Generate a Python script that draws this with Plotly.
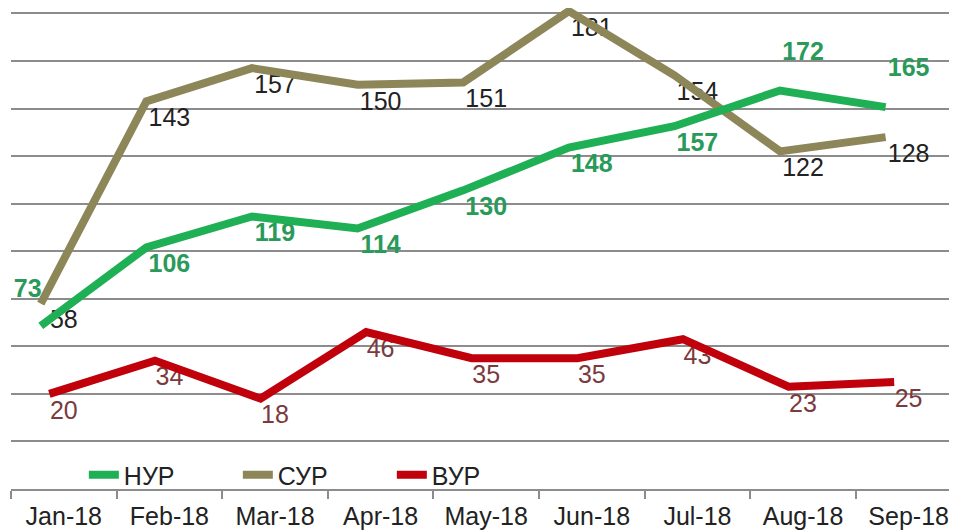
import plotly.graph_objects as go

# ---- data ----
months = ["Jan-18", "Feb-18", "Mar-18", "Apr-18", "May-18",
          "Jun-18", "Jul-18", "Aug-18", "Sep-18"]
nur = [73, 106, 119, 114, 130, 148, 157, 172, 165]   # НУР (green)
sur = [58, 143, 157, 150, 151, 181, 154, 122, 128]   # СУР (olive)
vur = [20, 34, 18, 46, 35, 35, 43, 23, 25]           # ВУР (red)

# ---- styles ----
GREEN = "#1fb055"
GREEN_TXT = "#2a9a5a"
OLIVE = "#8d8658"
RED = "#c0000b"
RED_TXT = "#7a3a3e"
GRID = "#8c8c8c"
FONT = "Liberation Sans, Arial, sans-serif"
FS = 25

# the page body keeps its default 8px margin, so the figure is sized to fit
FIG_W, FIG_H = 949, 523
X_RANGE = [-0.5, 8.458]
Y_RANGE = [-20, 182.3]
RED_SHIFT = 0.137      # lines drawn slightly off the category centres
OLIVE_SHIFT = 0.218
GREEN_YSHIFT = 24.4

fig = go.Figure()

def label_trace(vals, color, bold, yaxis, positions, gap):
    txt = [f"<b>{v}</b>" if bold else str(v) for v in vals]
    return go.Scatter(
        x=months, y=vals, xaxis="x", yaxis=yaxis,
        mode="markers+text", text=txt, textposition=positions,
        marker=dict(size=gap, opacity=0),
        textfont=dict(family=FONT, size=FS, color=color),
        showlegend=False, hoverinfo="skip", cliponaxis=False)

# labels (drawn beneath the lines)
fig.add_trace(label_trace(vur, RED_TXT, False, "y", "bottom center", 8))
fig.add_trace(label_trace(sur, "#222222", False, "y", "bottom center", 8))
gpos = ["top left"] + ["bottom center"] * 6 + ["top center", "top center"]
ggap = [34] + [8] * 6 + [38, 38]
fig.add_trace(label_trace(nur, GREEN_TXT, True, "y2", gpos, ggap))

# lines
fig.add_trace(go.Scatter(x=months, y=vur, name="ВУР", xaxis="x2", yaxis="y",
                         mode="lines", line=dict(color=RED, width=8),
                         legendrank=3))
fig.add_trace(go.Scatter(x=months, y=nur, name="НУР", xaxis="x3", yaxis="y2",
                         mode="lines", line=dict(color=GREEN, width=8),
                         legendrank=1))
fig.add_trace(go.Scatter(x=months, y=sur, name="СУР", xaxis="x3", yaxis="y",
                         mode="lines", line=dict(color=OLIVE, width=8),
                         legendrank=2))

hidden_x = dict(type="category", categoryarray=months, overlaying="x",
                visible=False, showgrid=False, zeroline=False)

fig.update_layout(
    width=FIG_W, height=FIG_H,
    margin=dict(l=3, r=0, t=0, b=42, autoexpand=False),
    paper_bgcolor="white", plot_bgcolor="white",
    font=dict(family=FONT, size=FS, color="#222222"),
    xaxis=dict(type="category", categoryarray=months, range=X_RANGE,
               automargin=False,
               showgrid=False, zeroline=False,
               showline=True, linecolor=GRID, linewidth=2,
               ticks="outside", tickson="boundaries", ticklen=8,
               tickcolor=GRID, tickwidth=2, ticklabelstandoff=4,
               tickfont=dict(family=FONT, size=FS, color="#222222")),
    xaxis2=dict(hidden_x, range=[X_RANGE[0] + RED_SHIFT, X_RANGE[1] + RED_SHIFT]),
    xaxis3=dict(hidden_x, range=[X_RANGE[0] + OLIVE_SHIFT, X_RANGE[1] + OLIVE_SHIFT]),
    yaxis=dict(range=Y_RANGE, tick0=0, dtick=20, showgrid=True,
               gridcolor=GRID, gridwidth=2, zeroline=False, automargin=False,
               showticklabels=False, ticks=""),
    yaxis2=dict(range=[Y_RANGE[0] + GREEN_YSHIFT, Y_RANGE[1] + GREEN_YSHIFT],
                overlaying="y", visible=False, showgrid=False, zeroline=False),
    legend=dict(orientation="h", x=0.077, xanchor="left", y=0.029,
                yanchor="middle", bgcolor="rgba(0,0,0,0)",
                font=dict(family=FONT, size=FS, color="#222222"),
                traceorder="normal", itemwidth=30, entrywidth=109),
    showlegend=True,
)

fig.write_html("out.html")
